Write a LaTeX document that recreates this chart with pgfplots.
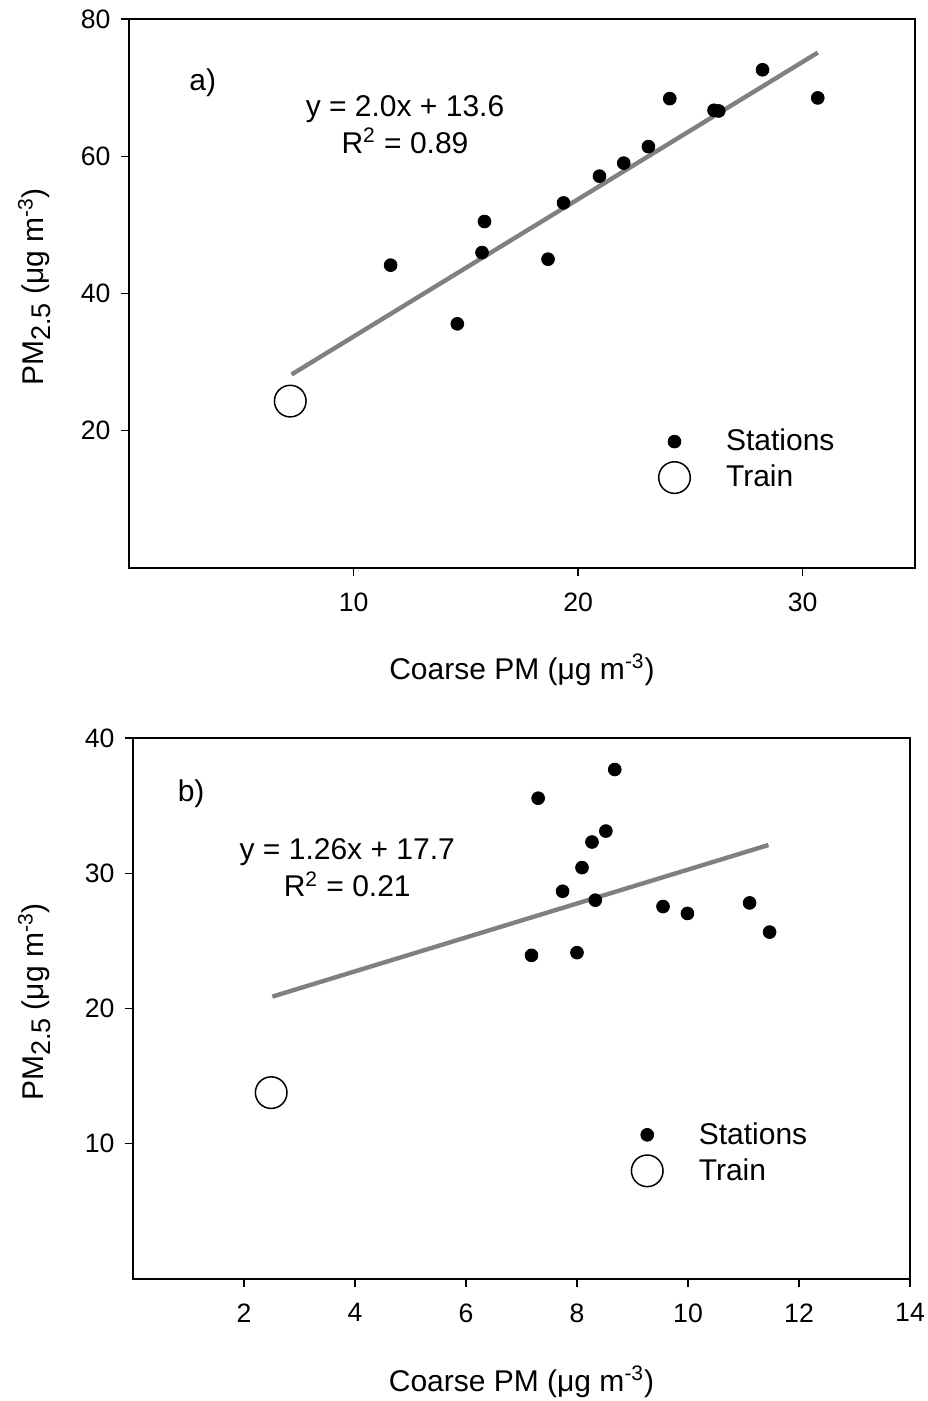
\documentclass[border=0pt]{standalone}
\usepackage{fontspec}
\setmainfont{Liberation Sans}
\usepackage{pgfplots}
\pgfplotsset{compat=1.18}
\definecolor{reggray}{RGB}{128,128,128}

\pgfplotstableread{
x y
11.65 44.13
14.62 35.58
15.72 45.97
15.83 50.49
18.66 45.00
19.35 53.20
20.95 57.10
22.03 59.00
23.13 61.40
24.08 68.40
26.05 66.70
26.26 66.60
28.21 72.60
30.67 68.50
}\stationsA
\pgfplotstableread{
x y
7.18 24.32
}\trainA
\pgfplotstableread{
x y
7.30 35.55
8.68 37.67
8.52 33.12
8.27 32.31
8.09 30.42
7.74 28.67
8.33 28.01
9.55 27.54
9.99 27.03
11.11 27.81
11.47 25.65
7.18 23.93
8.00 24.13
}\stationsB
\pgfplotstableread{
x y
2.49 13.78
}\trainB

\newcommand{\subtwo}{\raisebox{-3.5pt}{\fontsize{13.5}{15}\selectfont 2.5}}

\pgfplotsset{
  myaxis/.style={
    scale only axis,
    axis line style={line width=0.7pt},
    every tick/.style={line width=0.7pt, black},
    major tick length=3.75pt,
    tick align=outside,
    xtick pos=bottom, ytick pos=left,
    /pgf/number format/assume math mode=true,
    tick label style={font=\fontsize{13.3}{16}\selectfont},
    xticklabel style={yshift=-5pt},
    yticklabel style={xshift=-2pt},
    label style={font=\fontsize{15}{18}\selectfont},
    xlabel={Coarse PM (μg m\textsuperscript{-3})},
    ylabel={PM\subtwo{} (μg m\textsuperscript{-3})},
    legend cell align=left,
    clip=false,
  },
  stat/.style={only marks, mark=*, mark size=3.2pt, black,
    legend image code/.code={\draw[##1] plot coordinates {(0pt,0pt)}; \path[draw=none,fill=none] (-8pt,-8pt) rectangle (8pt,8pt);}},
  trn/.style={only marks, mark=o, mark size=7.9pt, black, mark options={line width=0.75pt},
    legend image code/.code={\draw[##1] plot coordinates {(0pt,0pt)}; \path[draw=none,fill=none] (-8pt,-8pt) rectangle (8pt,8pt);}},
  reg/.style={no marks, reggray, line width=2.2pt},
}

\begin{document}
\begin{tikzpicture}
\path[use as bounding box] (0pt,0pt) rectangle (463.5pt,-700.5pt);

\begin{axis}[myaxis,
  at={(64.5pt,-284pt)}, anchor=south west,
  width=393pt, height=274.5pt,
  xmin=0, xmax=35, ymin=0, ymax=80,
  xtick={10,20,30}, ytick={20,40,60,80},
  xlabel style={at={(axis description cs:0.5,-0.2022)}, anchor=base},
  ylabel style={at={(axis description cs:-0.1094,0.512)}, anchor=base},
  legend style={draw=none, fill=none, inner sep=0pt, at={(axis cs:23.56,15.8)}, anchor=west,
    font=\fontsize{15}{18}\selectfont, nodes={inner sep=0pt}, row sep=2pt,
    /tikz/every odd column/.append style={column sep=17.8pt}},
]
\addplot[reg] coordinates {(7.24,28.2) (30.67,75.1)};
\addplot[stat] table {\stationsA};
\addplot[trn] table {\trainA};
\legend{,Stations,Train}
\node[anchor=base west, font=\fontsize{15}{18}\selectfont, inner sep=0pt] at (axis cs:2.67,69.65) {a)};
\node[anchor=base, font=\fontsize{15}{18}\selectfont, inner sep=0pt] at (axis cs:12.29,65.72) {y = 2.0x + 13.6};
\node[anchor=base, font=\fontsize{15}{18}\selectfont, inner sep=0pt] at (axis cs:12.29,60.47) {R\textsuperscript{2} = 0.89};
\end{axis}

\begin{axis}[myaxis,
  at={(66.5pt,-639.5pt)}, anchor=south west,
  width=388.5pt, height=270.5pt,
  xmin=0, xmax=14, ymin=0, ymax=40,
  xtick={2,4,6,8,10,12,14}, ytick={10,20,30,40},
  xlabel style={at={(axis description cs:0.5,-0.207)}, anchor=base},
  ylabel style={at={(axis description cs:-0.1158,0.512)}, anchor=base},
  legend style={draw=none, fill=none, inner sep=0pt, at={(axis cs:8.97,9.33)}, anchor=west,
    font=\fontsize{15}{18}\selectfont, nodes={inner sep=0pt}, row sep=2pt,
    /tikz/every odd column/.append style={column sep=17.8pt}},
]
\addplot[reg] coordinates {(2.51,20.88) (11.45,32.09)};
\addplot[stat] table {\stationsB};
\addplot[trn] table {\trainB};
\legend{,Stations,Train}
\node[anchor=base west, font=\fontsize{15}{18}\selectfont, inner sep=0pt] at (axis cs:0.80,35.29) {b)};
\node[anchor=base, font=\fontsize{15}{18}\selectfont, inner sep=0pt] at (axis cs:3.86,31.05) {y = 1.26x + 17.7};
\node[anchor=base, font=\fontsize{15}{18}\selectfont, inner sep=0pt] at (axis cs:3.86,28.27) {R\textsuperscript{2} = 0.21};
\end{axis}
\end{tikzpicture}
\end{document}
